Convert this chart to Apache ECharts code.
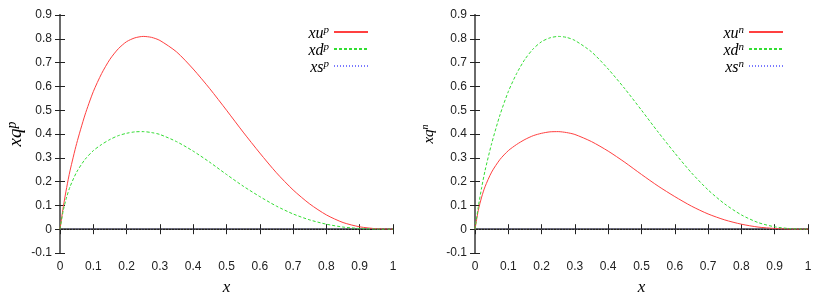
<!DOCTYPE html>
<html><head><meta charset="utf-8">
<script src="https://cdn.jsdelivr.net/npm/echarts@6/dist/echarts.min.js"></script>
<style>html,body{margin:0;padding:0;background:#fff}#c{width:830px;height:293px}</style>
</head><body><div id="c"></div><script>
// x sample points
const xVals = [0,0.01,0.02,0.03,0.05,0.075,0.1,0.125,0.15,0.175,0.2,0.225,0.25,0.275,0.3,0.35,0.4,0.45,0.5,0.55,0.6,0.65,0.7,0.75,0.8,0.85,0.9,0.95,1];
// proton panel
const xuP = [0,0.095,0.175,0.245,0.36,0.48,0.578,0.654,0.714,0.758,0.788,0.804,0.81,0.806,0.793,0.745,0.673,0.59,0.5,0.408,0.32,0.237,0.165,0.106,0.06,0.028,0.01,0.002,0];
const xdP = [0,0.08,0.135,0.178,0.24,0.293,0.33,0.356,0.377,0.393,0.403,0.409,0.41,0.406,0.398,0.368,0.328,0.281,0.23,0.181,0.137,0.097,0.064,0.039,0.021,0.009,0.003,0.0005,0];
const xsP = [0,0,0,0,0,0,0,0,0,0,0,0,0,0,0,0,0,0,0,0,0,0,0,0,0,0,0,0,0];
// neutron panel
const xuN = [0,0.08,0.135,0.178,0.24,0.293,0.33,0.356,0.377,0.393,0.403,0.409,0.41,0.406,0.398,0.368,0.328,0.281,0.23,0.181,0.137,0.097,0.064,0.039,0.021,0.009,0.003,0.0005,0];
const xdN = [0,0.095,0.175,0.245,0.36,0.48,0.578,0.654,0.714,0.758,0.788,0.804,0.81,0.806,0.793,0.745,0.673,0.59,0.5,0.408,0.32,0.237,0.165,0.106,0.06,0.028,0.01,0.002,0];
const xsN = [0,0,0,0,0,0,0,0,0,0,0,0,0,0,0,0,0,0,0,0,0,0,0,0,0,0,0,0,0];
// labels
const xTitle = 'x';
const yTitles = ['p', 'n'];
const seriesNamesP = ['xu^p', 'xd^p', 'xs^p'];
const seriesNamesN = ['xu^n', 'xd^n', 'xs^n'];

const pairs = ys => xVals.map((x, i) => [x, ys[i]]);
const fmt = v => String(Math.round(v * 10) / 10);
const serif = 'Liberation Serif';
const supRich = (big, small, lh, padTop) => ({
  a: {fontFamily: serif, fontStyle: 'italic', fontSize: big, lineHeight: lh, padding: [padTop, 0, 0, 0], color: '#000'},
  b: {fontFamily: serif, fontStyle: 'italic', fontSize: small, lineHeight: Math.round(small * 0.6), verticalAlign: 'top', color: '#000'}
});
const supFmt = name => { const p = name.split('^'); return '{a|' + p[0] + '}{b|' + p[1] + '}'; };

const grids = [
  {left: 60, right: 437, top: 15, bottom: 40, containLabel: false, outerBoundsMode: 'none'},
  {left: 475, right: 22, top: 15, bottom: 40, containLabel: false, outerBoundsMode: 'none'}
];
const tickStyle = {show: true, inside: true, length: 5, lineStyle: {color: '#222', width: 1}};
const sideLine = {show: true, lineStyle: {color: '#6a6a6a', width: 2}};
const xAxes = [], yAxes = [];
const yNameSizes = [19, 15];
grids.forEach((g, gi) => {
  xAxes.push({
    type: 'value', gridIndex: gi, position: 'bottom', min: 0, max: 1, interval: 0.1,
    axisLine: sideLine, axisTick: tickStyle, splitLine: {show: false},
    axisLabel: {formatter: fmt, color: '#222', fontFamily: 'Liberation Sans', fontSize: 12, margin: 8},
    name: xTitle, nameLocation: 'middle', nameGap: 26,
    nameTextStyle: {fontFamily: serif, fontStyle: 'italic', fontSize: 17, color: '#000'}
  });
  xAxes.push({
    type: 'value', gridIndex: gi, position: 'top', min: 0, max: 1, interval: 0.1,
    axisLine: {show: true, lineStyle: {color: '#222', width: 1}}, axisTick: tickStyle,
    splitLine: {show: false}, axisLabel: {show: false}
  });
  const s = yNameSizes[gi];
  yAxes.push({
    type: 'value', gridIndex: gi, position: 'left', min: -0.1, max: 0.9, interval: 0.1,
    axisLine: sideLine, axisTick: tickStyle, splitLine: {show: false},
    axisLabel: {formatter: fmt, color: '#222', fontFamily: 'Liberation Sans', fontSize: 12, margin: 8},
    name: '{a|xq}{b|' + yTitles[gi] + '}', nameLocation: 'middle', nameGap: gi === 0 ? 36 : 40,
    nameTextStyle: {rich: supRich(s, s - 5, s, 3)}
  });
  yAxes.push({
    type: 'value', gridIndex: gi, position: 'right', min: -0.1, max: 0.9, interval: 0.1,
    axisLine: sideLine, axisTick: tickStyle, splitLine: {show: false}, axisLabel: {show: false}
  });
});

const mk = (name, data, gi, color, type, extra) => Object.assign({
  name, type: 'line', data: pairs(data), xAxisIndex: gi * 2, yAxisIndex: gi * 2,
  symbol: 'none', smooth: 0.25,
  lineStyle: {color, width: 1, type}, itemStyle: {color}, z: 3
}, extra || {});
const zeroLine = {silent: true, symbol: 'none', label: {show: false},
  lineStyle: {color: '#555', width: 1, type: [1, 2]}, data: [{yAxis: 0}]};

const series = [];
[[seriesNamesP, [xuP, xdP, xsP]], [seriesNamesN, [xuN, xdN, xsN]]].forEach(([names, arr], gi) => {
  series.push(mk(names[0], arr[0], gi, '#ff4040', 'solid'));
  series.push(mk(names[1], arr[1], gi, '#33dd33', [3, 2]));
  series.push(mk(names[2], arr[2], gi, '#7a7aff', [1, 2], {markLine: zeroLine}));
});

const legendBase = {
  orient: 'vertical', align: 'right', top: 22, padding: 0, itemGap: -3,
  itemWidth: 34, itemHeight: 14, formatter: supFmt,
  itemStyle: {opacity: 0},
  textStyle: {rich: supRich(16, 11, 14, 4)}
};
const chart = echarts.init(document.getElementById('c'), null, {renderer: 'canvas'});
chart.setOption({
  animation: false,
  backgroundColor: '#fff',
  grid: grids,
  xAxis: xAxes,
  yAxis: yAxes,
  legend: [
    Object.assign({}, legendBase, {right: 461, data: seriesNamesP}),
    Object.assign({}, legendBase, {right: 46, data: seriesNamesN})
  ],
  series
});
</script></body></html>
